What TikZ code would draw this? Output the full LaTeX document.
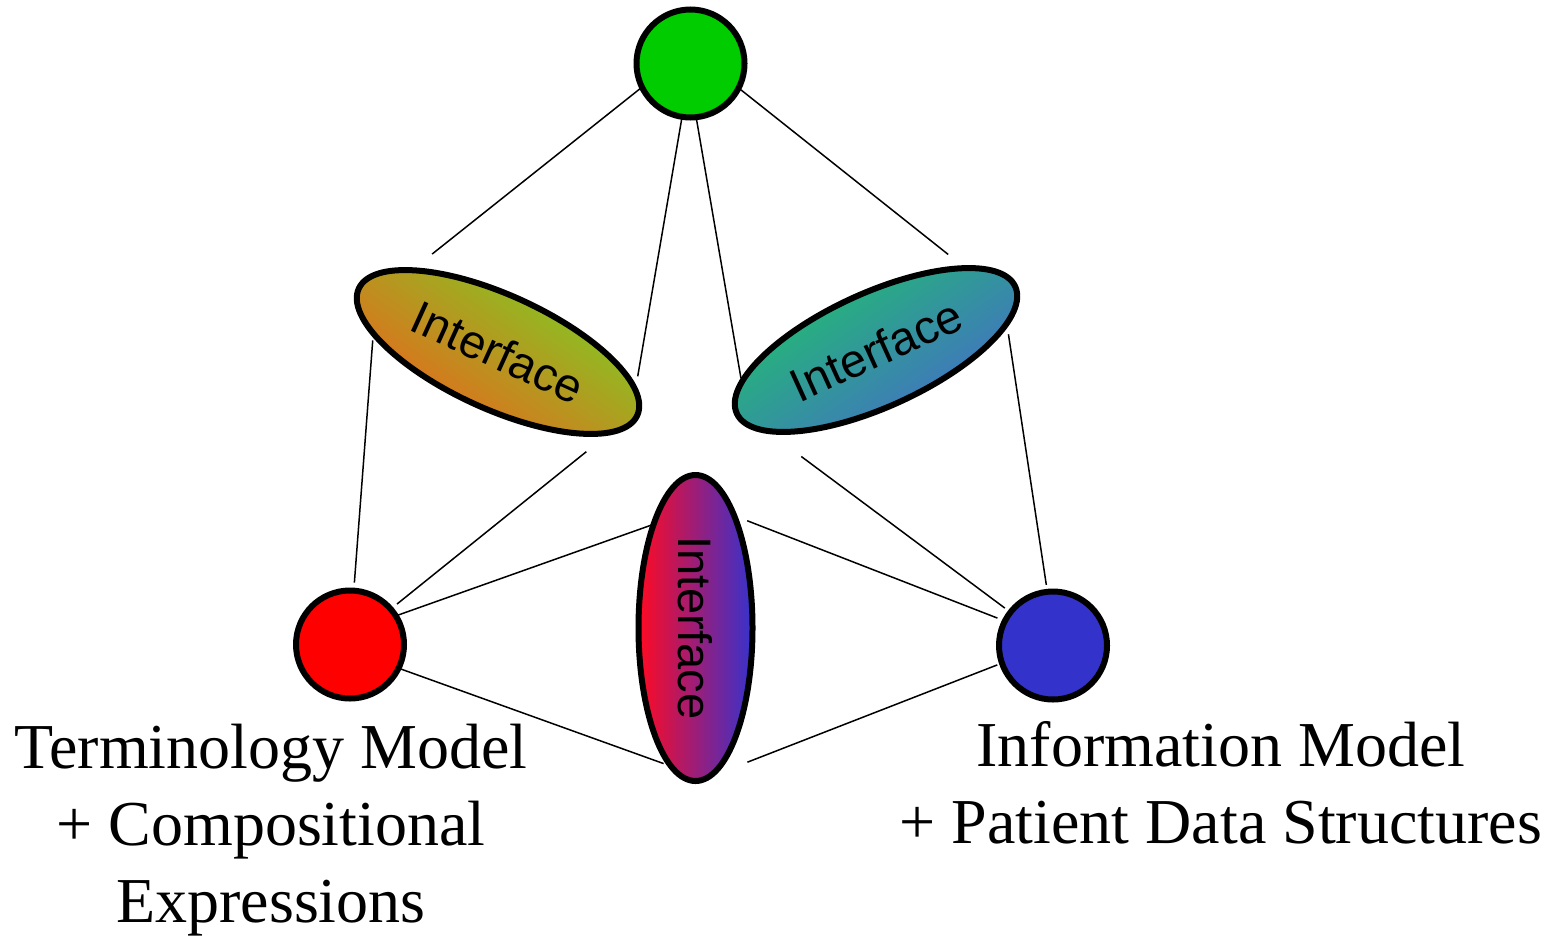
\documentclass[tikz,border=0pt]{standalone}
\usepackage{fontspec}
\setmainfont{Liberation Serif}
\newfontfamily\arialfont{Liberation Sans}
\usetikzlibrary{shapes.geometric}
\definecolor{modelgreen}{RGB}{0,204,0}
\definecolor{modelred}{RGB}{255,0,0}
\definecolor{modelblue}{RGB}{51,51,204}
\definecolor{ifred}{RGB}{255,10,35}
\definecolor{ifblue}{RGB}{55,50,205}
\definecolor{iforange}{RGB}{240,95,28}
\definecolor{iflime}{RGB}{120,210,35}
\definecolor{ifgreen}{RGB}{30,195,105}
\definecolor{ifsteel}{RGB}{70,105,205}

\begin{document}
\begin{tikzpicture}[
        x=1pt, y=-1pt,
        model/.style={circle, draw, line width=6pt, minimum size=108pt, inner sep=0pt, outer sep=0pt},
        iface/.style={ellipse, draw, line width=6pt, minimum width=306pt, minimum height=114pt,
            inner sep=0pt, outer sep=0pt, font=\arialfont\fontsize{47}{56}\selectfont},
        link/.style={line width=1.5pt},
    ]
    \tikzstyle{caption}=[align=center, anchor=base, font=\fontsize{64}{77}\selectfont]
    \useasboundingbox (0,0) rectangle (1549,935);
    % the three models
    \node[model, fill=modelgreen] (top) at (690.5,63.5) {};
    \node[model, fill=modelred] (term) at (350,644.5) {};
    \node[model, fill=modelblue] (info) at (1053,645.5) {};
    % interfaces between them
    \node[iface, rotate=-24.5, left color=iforange, right color=iflime, shading angle=145] (ifleft) at (498,352) {Interface};
    \node[iface, rotate=24.5, left color=ifgreen, right color=ifsteel, shading angle=35] (ifright) at (876,350) {Interface};
    \node[iface, rotate=-90, left color=ifred, right color=ifblue, shading angle=90] (ifmid) at (695.5,628) {Interface};
    % captions
    \node[caption] (termtext) at (271,922) {Terminology Model\\+ Compositional\\Expressions};
    \node[caption] (infotext) at (1221,843) {Information Model\\+ Patient Data Structures};
    % connectors
    \draw[link, shorten >=26pt] (top.206) -- (ifleft.161);
    \draw[link, shorten >=14pt] (top.261) -- (ifleft.9);
    \draw[link, shorten >=4pt] (top.276) -- (ifright.169);
    \draw[link, shorten >=22pt] (top.333) -- (ifright.18);
    \draw[link, shorten <=8pt, shorten >=7pt] (term.86) -- (ifleft.196);
    \draw[link, shorten <=8pt, shorten >=31pt] (term.41) -- (ifleft.349);
    \draw[link] (term.32) -- (ifmid.202);
    \draw[link, shorten >=8pt] (term.334) -- (ifmid.350);
    \draw[link, shorten <=7pt, shorten >=43pt] (info.142) -- (ifright.192);
    \draw[link, shorten <=8pt, shorten >=14pt] (info.153) -- (ifmid.161);
    \draw[link, shorten <=5pt, shorten >=50pt] (info.199) -- (ifmid.2);
    \draw[link, shorten <=7pt, shorten >=11pt] (info.96) -- (ifright.347);
\end{tikzpicture}
\end{document}
